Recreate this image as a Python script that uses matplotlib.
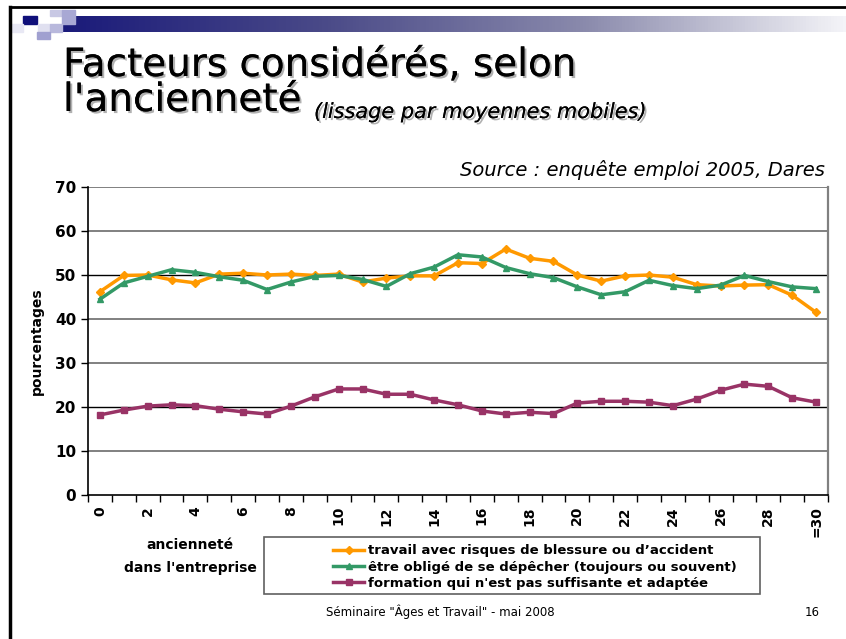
import matplotlib
matplotlib.use('Agg')
import numpy as np
import matplotlib.pyplot as plt
import matplotlib.patheffects as pe
from matplotlib.patches import Rectangle
from matplotlib.colors import LinearSegmentedColormap

# smoothed percentages by seniority (0 .. >=30 years)
anciennete = list(range(31))
travail = [46.2, 49.9, 50.0, 48.9, 48.2, 50.2, 50.4, 50.0, 50.2, 49.9, 50.2, 48.4, 49.3, 49.8, 49.8,
           52.8, 52.6, 55.9, 53.8, 53.1, 50.0, 48.6, 49.8, 50.0, 49.5, 47.8, 47.5, 47.7, 47.8, 45.4, 41.5]
depecher = [44.5, 48.2, 49.7, 51.2, 50.6, 49.6, 48.8, 46.7, 48.4, 49.7, 49.9, 49.0, 47.4, 50.3, 51.8,
            54.6, 54.1, 51.7, 50.3, 49.4, 47.3, 45.5, 46.2, 48.8, 47.6, 46.9, 47.7, 49.9, 48.5, 47.3, 46.9]
formation = [18.2, 19.3, 20.2, 20.5, 20.3, 19.5, 18.9, 18.4, 20.2, 22.3, 24.1, 24.1, 22.9, 22.9, 21.6,
             20.5, 19.1, 18.4, 18.8, 18.5, 20.9, 21.3, 21.3, 21.1, 20.3, 21.8, 23.8, 25.2, 24.7, 22.1, 21.1]
xlabels = ['0', '2', '4', '6', '8', '10', '12', '14', '16', '18', '20', '22', '24', '26', '28', '=30']
noms = ["travail avec risques de blessure ou d\u2019accident",
        "être obligé de se dépêcher (toujours ou souvent)",
        "formation qui n'est pas suffisante et adaptée"]

W, H = 846, 639
fig = plt.figure(figsize=(W / 100, H / 100), dpi=100)
fig.patch.set_facecolor('white')

# slide decoration layer in pixel coords
bg = fig.add_axes([0, 0, 1, 1], zorder=0)
bg.set_xlim(0, W)
bg.set_ylim(H, 0)
bg.axis('off')

grad = np.linspace(0, 1, 256).reshape(1, -1)
cmap = LinearSegmentedColormap.from_list('bar', ['#1a1a7a', '#4a4a88', '#8a8aac', '#f4f4f8'])
bg.imshow(grad, cmap=cmap, extent=[62, W, 32, 16], aspect='auto', zorder=1)
for (x0, y0, w, h, c) in [(23, 16, 14, 8, '#10107a'), (50, 10, 12, 6, '#c8c8e4'),
                          (62, 10, 13, 14, '#a8a8d4'), (38, 24, 12, 8, '#e0e0f0'),
                          (50, 24, 12, 8, '#b8b8dc'), (37, 32, 13, 7, '#a0a0d0'),
                          (12, 24, 11, 8, '#e8e8f4')]:
    bg.add_patch(Rectangle((x0, y0), w, h, color=c, zorder=2))
bg.plot([10, 10], [7, H], color='black', lw=2.5, zorder=3)
bg.plot([10, W], [7, 7], color='black', lw=2, zorder=3)

shadow = [pe.withSimplePatchShadow(offset=(1.5, -1.5), shadow_rgbFace='#909090', alpha=0.7), pe.Normal()]
bg.text(63, 76, "Facteurs considérés, selon", fontsize=28, ha='left', va='baseline',
        path_effects=shadow, zorder=4)
bg.text(63, 111, "l'ancienneté", fontsize=28, ha='left', va='baseline',
        path_effects=shadow, zorder=4)
bg.text(314, 118, "(lissage par moyennes mobiles)", fontsize=15, style='italic', ha='left',
        va='baseline', path_effects=shadow, zorder=4)
bg.text(825, 170, "Source : enquête emploi 2005, Dares", fontsize=14, style='italic',
        ha='right', va='center', zorder=4)
bg.text(440, 612, "Séminaire \"Âges et Travail\" - mai 2008", fontsize=8.5, ha='center',
        va='center', zorder=4)
bg.text(812, 612, "16", fontsize=8.5, ha='center', va='center', zorder=4)
bg.text(190, 545, "ancienneté", fontsize=10, fontweight='bold', ha='center', va='center', zorder=4)
bg.text(190, 568, "dans l'entreprise", fontsize=10, fontweight='bold', ha='center', va='center', zorder=4)
bg.add_patch(Rectangle((264, 537), 496, 57, fill=False, edgecolor='#606060', lw=1.2, zorder=4))

# chart
ax = fig.add_axes([88 / W, 1 - 495 / H, (828 - 88) / W, (495 - 187) / H], zorder=2)
ax.set_facecolor('white')
l1, = ax.plot(anciennete, travail, color='#ff9900', lw=2.5, marker='D', ms=4.5, zorder=3)
l2, = ax.plot(anciennete, depecher, color='#339966', lw=2.5, marker='^', ms=5, zorder=3)
l3, = ax.plot(anciennete, formation, color='#993366', lw=2.5, marker='s', ms=4.5, zorder=3)

ax.set_xlim(-0.5, 30.5)
ax.set_ylim(0, 70)
for y in range(10, 71, 10):
    if y in (20, 50):
        ax.axhline(y, color='black', lw=1, zorder=1)
    else:
        ax.axhline(y, color='#808080', lw=1.4, zorder=1)
ax.set_yticks(range(0, 71, 10))
ax.set_yticklabels([str(v) for v in range(0, 71, 10)], fontsize=11, fontweight='bold')
ax.set_xticks(range(0, 31, 2))
ax.set_xticklabels(xlabels, rotation=90, fontsize=10, fontweight='bold')
ax.set_xticks(np.arange(-0.5, 31, 1), minor=True)
ax.tick_params(axis='x', which='major', length=0, pad=8)
ax.tick_params(axis='x', which='minor', length=5, direction='out', width=1)
ax.tick_params(axis='y', length=5, direction='out', width=1)
for s in ['left', 'bottom']:
    ax.spines[s].set_color('black')
    ax.spines[s].set_linewidth(1.2)
ax.spines['top'].set_visible(False)
ax.spines['right'].set_color('#808080')
ax.spines['right'].set_linewidth(1.6)
ax.set_ylabel("pourcentages", fontsize=10, fontweight='bold', labelpad=8)

fig.legend([l1, l2, l3], noms, loc='center', bbox_to_anchor=(535 / W, 1 - 567 / H),
           frameon=False, prop={'size': 9.5, 'weight': 'bold'}, labelspacing=0.25,
           handlelength=2.3, handletextpad=0.3, borderpad=0.1)

fig.savefig("out.png", dpi=100)
